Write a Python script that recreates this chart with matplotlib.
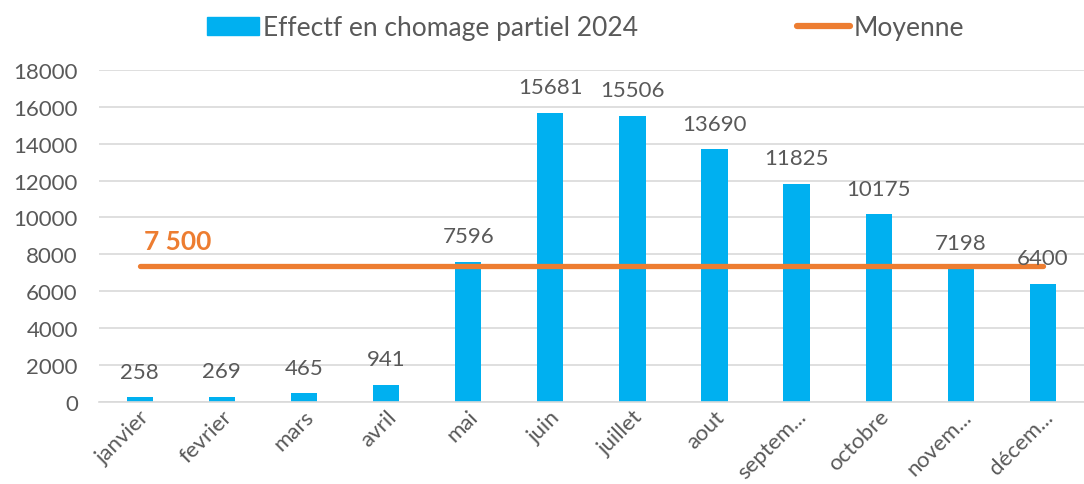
import numpy as np
import matplotlib.pyplot as plt
from matplotlib.patches import Patch
from matplotlib.lines import Line2D

plt.rcParams['font.family'] = ['Lato', 'DejaVu Sans']

mois = ['janvier', 'fevrier', 'mars', 'avril', 'mai', 'juin', 'juillet',
        'aout', 'septem...', 'octobre', 'novem...', 'décem...']
effectif = [258, 269, 465, 941, 7596, 15681, 15506, 13690, 11825, 10175, 7198, 6400]
moyenne = [7350] * 12

bleu = '#00B0F0'
orange = '#ED7D31'
gris = '#595959'

fig = plt.figure(figsize=(10.84, 4.85), dpi=100)
ax = fig.add_axes([0.091, 0.169, 0.909, 0.685])

x = np.arange(len(mois))
ax.bar(x, effectif, width=0.32, color=bleu, zorder=2)
ax.plot(x, moyenne, color=orange, lw=3.8, solid_capstyle='round', zorder=3)

for xi, v in zip(x, effectif):
    ax.text(xi, v + 850, str(v), ha='center', va='bottom', fontsize=16, color=gris)

ax.text(0.05, 7500 + 550, '7 500', ha='left', va='bottom', fontsize=19,
        fontweight='bold', color=orange)

ax.set_xlim(-0.5, 11.5)
ax.set_ylim(0, 18000)
ax.set_yticks(range(0, 18001, 2000))
ax.tick_params(axis='y', length=0, labelsize=16, labelcolor=gris, pad=15)
ax.tick_params(axis='x', length=0, labelsize=16, labelcolor=gris, pad=3)
ax.set_xticks(x)
ax.set_xticklabels(mois, rotation=45, ha='right', rotation_mode='anchor')
ax.grid(axis='y', color='#D9D9D9', lw=1.2, zorder=0)
for s in ['top', 'right', 'left']:
    ax.spines[s].set_visible(False)
ax.spines['bottom'].set_color('#D9D9D9')
ax.spines['bottom'].set_linewidth(1.2)

handles = [Patch(color=bleu), Line2D([], [], color=orange, lw=4.5, solid_capstyle='round')]
fig.legend(handles, ['Effectf en chomage partiel 2024', 'Moyenne'],
           loc='upper center', bbox_to_anchor=(0.54, 1.015), ncol=2, frameon=False,
           fontsize=19, labelcolor=gris, columnspacing=6.0, handlelength=2.0,
           handletextpad=0.15)

fig.savefig('out.png', dpi=100)
